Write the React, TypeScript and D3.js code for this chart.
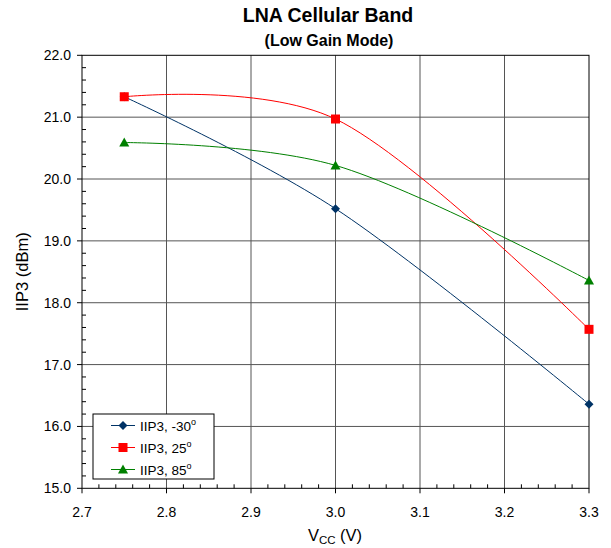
import React from "react";
import * as d3 from "d3";

const vcc = [2.75, 3.0, 3.3];
const iip3Minus30 = [21.33, 19.52, 16.36];
const iip3Plus25 = [21.33, 20.97, 17.57];
const iip3Plus85 = [20.59, 20.22, 18.36];
const seriesNames = ["IIP3, -30", "IIP3, 25", "IIP3, 85"];
const seriesColors = ["#003366", "#ff0000", "#008000"];
const xTicks = [2.7, 2.8, 2.9, 3.0, 3.1, 3.2, 3.3];
const yTicks = [15, 16, 17, 18, 19, 20, 21, 22];

const W = 611;
const H = 548;
const L = 82, R = 589, T = 55.3, B = 488.3;

export default function App() {
  const x = d3.scaleLinear().domain([2.7, 3.3]).range([L, R]);
  const y = d3.scaleLinear().domain([15, 22]).range([B, T]);
  const line = d3
    .line<[number, number]>()
    .x((d) => x(d[0]))
    .y((d) => y(d[1]))
    .curve(d3.curveCatmullRom.alpha(0.15));
  const all = [iip3Minus30, iip3Plus25, iip3Plus85];
  const xMinor: number[] = [];
  for (let i = 0; i <= 30; i++) if (i % 5 !== 0) xMinor.push(2.7 + i * 0.02);
  const yMinor: number[] = [];
  for (let i = 0; i <= 35; i++) if (i % 5 !== 0) yMinor.push(15 + i * 0.2);

  const marker = (k: number, cx: number, cy: number, key: string) => {
    const c = seriesColors[k];
    if (k === 0)
      return (
        <path key={key} d={`M${cx},${cy - 4.5}L${cx + 4.5},${cy}L${cx},${cy + 4.5}L${cx - 4.5},${cy}Z`} fill={c} />
      );
    if (k === 1) return <rect key={key} x={cx - 4.5} y={cy - 4.5} width={9} height={9} fill={c} />;
    return <path key={key} d={`M${cx},${cy - 5}L${cx + 5},${cy + 4}L${cx - 5},${cy + 4}Z`} fill={c} />;
  };

  const font = "'Liberation Sans', Arial, sans-serif";
  const legX = 93, legY = 414, legW = 121, legH = 65;

  return (
    <svg width={W} height={H} style={{ position: "absolute", left: 0, top: 0 }} fontFamily={font}>
      <rect width={W} height={H} fill="#fff" />
      <text x={328} y={22} textAnchor="middle" fontSize={19.5} fontWeight="bold">LNA Cellular Band</text>
      <text x={329} y={46} textAnchor="middle" fontSize={16} fontWeight="bold">(Low Gain Mode)</text>
      {/* gridlines */}
      {xTicks.slice(1, -1).map((t) => (
        <line key={"gx" + t} x1={x(t)} x2={x(t)} y1={T} y2={B} stroke="#555" strokeWidth={1} />
      ))}
      {yTicks.slice(1, -1).map((t) => (
        <line key={"gy" + t} x1={L} x2={R} y1={y(t)} y2={y(t)} stroke="#555" strokeWidth={1} />
      ))}
      <rect x={L} y={T} width={R - L} height={B - T} fill="none" stroke="#000" strokeWidth={1} />
      {/* ticks */}
      {xTicks.map((t) => (
        <line key={"tx" + t} x1={x(t)} x2={x(t)} y1={B} y2={B + 5} stroke="#000" />
      ))}
      {xMinor.map((t, i) => (
        <line key={"mx" + i} x1={x(t)} x2={x(t)} y1={B} y2={B - 4} stroke="#000" />
      ))}
      {yTicks.map((t) => (
        <line key={"ty" + t} x1={L - 5} x2={L} y1={y(t)} y2={y(t)} stroke="#000" />
      ))}
      {yMinor.map((t, i) => (
        <line key={"my" + i} x1={L} x2={L + 4} y1={y(t)} y2={y(t)} stroke="#000" />
      ))}
      {xTicks.map((t) => (
        <text key={"lx" + t} x={x(t)} y={517} textAnchor="middle" fontSize={14}>
          {t.toFixed(1)}
        </text>
      ))}
      {yTicks.map((t) => (
        <text key={"ly" + t} x={71} y={y(t) + 5} textAnchor="end" fontSize={14}>
          {t.toFixed(1)}
        </text>
      ))}
      <text transform={`translate(28,${(T + B) / 2}) rotate(-90)`} textAnchor="middle" fontSize={16.5}>
        IIP3 (dBm)
      </text>
      <text x={335} y={541} textAnchor="middle" fontSize={16.5}>
        V<tspan fontSize={11.5} dy={3}>CC</tspan>
        <tspan dy={-3}> (V)</tspan>
      </text>
      {/* series */}
      {all.map((vals, k) => (
        <path
          key={"s" + k}
          d={line(vcc.map((v, i) => [v, vals[i]] as [number, number])) || ""}
          fill="none"
          stroke={seriesColors[k]}
          strokeWidth={1}
        />
      ))}
      {all.map((vals, k) => vals.map((v, i) => marker(k, x(vcc[i]), y(v), `m${k}-${i}`)))}
      {/* legend */}
      <rect x={legX} y={legY} width={legW} height={legH} fill="#fff" stroke="#000" strokeWidth={1} />
      {seriesNames.map((n, k) => {
        const cy = legY + 11.5 + k * 22;
        return (
          <g key={"leg" + k}>
            <line x1={111} x2={135} y1={cy} y2={cy} stroke={seriesColors[k]} />
            {marker(k, 123, cy, "lm" + k)}
            <text x={140} y={cy + 5} fontSize={13.5}>
              {n}
              <tspan fontSize={9} dy={-5.5}>o</tspan>
            </text>
          </g>
        );
      })}
    </svg>
  );
}
